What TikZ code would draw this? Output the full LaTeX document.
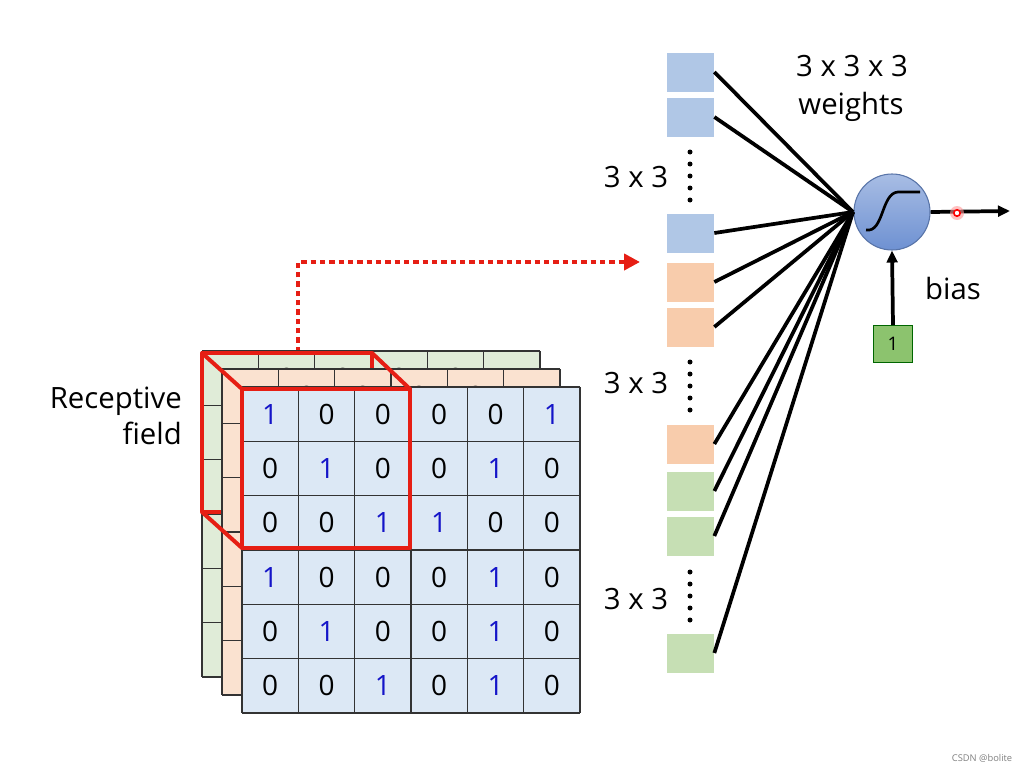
\documentclass[tikz,border=0pt]{standalone}
\usepackage{fontspec}
\setmainfont{Open Sans}
\usetikzlibrary{arrows.meta}
\definecolor{gblue}{RGB}{220,232,245}
\definecolor{gorange}{RGB}{250,226,208}
\definecolor{ggreen}{RGB}{224,236,216}
\definecolor{wblue}{RGB}{176,199,230}
\definecolor{worange}{RGB}{248,204,172}
\definecolor{wgreen}{RGB}{198,223,180}
\definecolor{numblue}{RGB}{20,20,200}
\definecolor{nblue}{RGB}{110,145,210}
\definecolor{bgreen}{RGB}{140,195,110}
\tikzset{
 lbl/.style={font=\fontsize{22}{27}\selectfont,inner sep=0pt},
 num/.style={font=\fontsize{21}{24}\selectfont,inner sep=0pt},
 wsq/.style={minimum width=36pt,minimum height=30pt,inner sep=0pt,draw=white,line width=0.5pt},
 wire/.style={line width=2.8pt},
 rf/.style={draw={rgb,255:red,230;green,30;blue,20},line width=3pt,line join=round},
}
\newcommand{\mygrid}[3]{% x0 y0 color
 \fill[#3] (#1,#2) rectangle ++(338,326);
 \foreach \r/\row in {0/{1,0,0,0,0,1},1/{0,1,0,0,1,0},2/{0,0,1,1,0,0},3/{1,0,0,0,1,0},4/{0,1,0,0,1,0},5/{0,0,1,0,1,0}}{
  \foreach \v [count=\c from 0] in \row {
   \pgfmathsetmacro{\cx}{#1+\c*56.33+28.2}
   \pgfmathsetmacro{\cy}{#2+\r*54.33+27.2}
   \ifnum\v=1 \node[num,text=numblue] at (\cx,\cy) {1};\else \node[num] at (\cx,\cy) {0};\fi
  }}
 \foreach \i in {0,...,6}{
  \draw[line width=1.2pt,black!80] ({#1+\i*56.33},#2) -- ({#1+\i*56.33},#2+326);
  \draw[line width=1.2pt,black!80] (#1,{#2+\i*54.33}) -- (#1+338,{#2+\i*54.33});}
}
\begin{document}
\begin{tikzpicture}[x=0.75pt,y=-0.75pt]
\useasboundingbox (0,0) rectangle (1027,774);
\fill[white] (0,0) rectangle (1027,774);
% dotted arrow
\coordinate (d0) at (298,352);
\coordinate (d1) at (298,262);
\coordinate (d2) at (640,262);
\draw[rf,line width=3.5pt,dash pattern=on 4pt off 3pt,-{Triangle[length=12pt,width=12pt]}] (d0) -- (d1) -- (d2);
% grids
\mygrid{202}{351}{ggreen}
\draw[rf] (202,353) rectangle (372,512);
\mygrid{222}{369}{gorange}
\mygrid{242}{387}{gblue}
\draw[rf] (242,389) rectangle (410,548);
\draw[rf] (202,353) -- (242,389) (372,353) -- (410,389) (202,512) -- (242,548);
\node[lbl,anchor=east,align=right] (rl) at (182,416) {Receptive\\field};
% weights
\foreach \n/\y/\c in {a/72/wblue,b/117/wblue,c/233/wblue,d/282/worange,e/327/worange,f/444/worange,g/491/wgreen,h/536/wgreen,i/653/wgreen}{
 \node[wsq,fill=\c] (w\n) at (690,\y) {};}
\foreach \y in {152,164,176,188,200, 362,374,386,398,410, 572,584,596,608,620}{\fill (690,\y) circle (2.5);}
\node[lbl] (l1) at (636,177) {3 x 3};
\node[lbl] (l2) at (636,383) {3 x 3};
\node[lbl] (l3) at (636,599) {3 x 3};
\node[lbl] (t1) at (852,66) {3 x 3 x 3};
\node[lbl] (t2) at (851,107) {weights};
% neuron
\node[circle,minimum size=57pt,draw=nblue!80!black,line width=0.8pt,inner sep=0pt,
 top color=nblue!60,bottom color=nblue] (n) at (892,212) {};
\draw[line width=2pt] (866,230) .. controls (884,233) and (881,193) .. (898,192) -- (920,192);
\coordinate (hub) at (853,212);
\foreach \n in {a,b,c,d,e,f,g,h,i}{\draw[wire] (w\n.east) -- (hub);}
\coordinate (out) at (1010,211);
\draw[wire,-{Triangle[length=9pt,width=8pt]}] (n.east) -- (out);
\fill[red!40,opacity=0.6] (957,213) circle (7);
\draw[red,line width=1.2pt,fill=white] (957,213) circle (3.2);
\node[draw=green!40!black,fill=bgreen,minimum width=29pt,minimum height=28pt,inner sep=0pt,font=\fontsize{14}{16}\selectfont] (one) at (893,344) {1};
\draw[wire,-{Triangle[length=9pt,width=8pt]}] (one.north) -- (n.south);
\node[lbl] (bias) at (953,288) {bias};
\node[font=\fontsize{7}{8}\selectfont,text=gray] (wm) at (982,758) {CSDN @bolite};
\end{tikzpicture}
\end{document}
